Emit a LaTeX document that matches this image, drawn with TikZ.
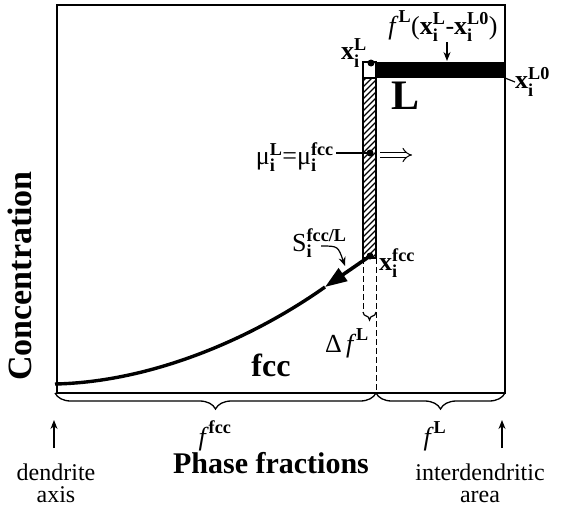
\documentclass[tikz,border=0pt]{standalone}
\usepackage{amsmath}
\usepackage{fontspec}
\setmainfont{Liberation Serif}
\usetikzlibrary{arrows.meta,decorations.pathreplacing}

\newcommand{\xconc}[1]{\textbf{x}_{\textbf{i}}^{\textbf{#1}}}
\newcommand{\fphase}[1]{\textit{f}^{\,\textbf{#1}}}

\begin{document}
\begin{tikzpicture}[x=1pt, y=-1pt,
      lab/.style={font=\fontsize{26}{28}\selectfont, inner sep=0pt},
      big/.style={font=\fontsize{31}{33}\selectfont\bfseries, inner sep=0pt},
      note/.style={font=\fontsize{24}{22}\selectfont, align=center, inner sep=0pt},
      brc/.style={decorate, decoration={brace, mirror, amplitude=16pt}, line width=1.3pt},
      ptr/.style={line width=1.2pt, -{Stealth[length=9pt, width=7pt]}}]
    \useasboundingbox (0,0) rectangle (569,506);
    % frame of the plot
    \coordinate (tl) at (57,5);
    \coordinate (br) at (505,393);
    \draw[line width=2.4pt] (tl) rectangle (br);
    % liquid bar and interface column
    \fill (376,62) rectangle (505,78);
    \draw[line width=1.6pt, fill=white] (363,62) rectangle (376,78);
    \begin{scope}
      \clip (363,78) rectangle (376,258);
      \foreach \k in {0,...,34} { \draw[line width=1.1pt] (360,84+6*\k) -- ++(20,-20); }
    \end{scope}
    \draw[line width=1.6pt] (363,78) rectangle (376,258);
    \coordinate (dotL) at (371,63);
    \coordinate (dotmu) at (370,153);
    \coordinate (dotfcc) at (370,256);
    \foreach \p in {dotL, dotmu, dotfcc} { \fill (\p) circle (3.5pt); }
    % dashed boundaries below the column
    \coordinate (dl) at (363,258);
    \coordinate (dr) at (376,258);
    \coordinate (dlend) at (363,312);
    \coordinate (drend) at (376,393);
    \draw[line width=1pt, dash pattern=on 6pt off 3pt] (dl) -- (dlend);
    \draw[line width=1pt, dash pattern=on 6pt off 3pt] (dr) -- (drend);
    \draw[decorate, decoration={brace, mirror, amplitude=8pt}, line width=1.2pt] (dlend) -- (376,312);
    % solid profile and flux arrow
    \coordinate (axis0) at (55,384);
    \coordinate (tip) at (325,287);
    \draw[line width=3.4pt] (axis0) .. controls (150,382) and (250,340) .. (tip);
    \draw[line width=3.6pt, -{Triangle[length=22pt, width=15pt]}] (dotfcc) -- (tip);
    % labels
    \node[big, rotate=90, font=\fontsize{34}{36}\selectfont\bfseries] (conc) at (20,276) {Concentration};
    \node[big, font=\fontsize{32}{34}\selectfont\bfseries] (fcc) at (271,365) {fcc};
    \node[inner sep=0pt, font=\fontsize{42}{44}\selectfont\bfseries] (liq) at (405,96) {L};
    \node[lab, anchor=base] (flux) at (443,34) {$\fphase{L}\text{(}\xconc{L}\text{-}\xconc{L0}\text{)}$};
    \node[lab, anchor=east] (xL) at (367,53) {$\xconc{L}$};
    \node[lab, anchor=west] (xL0) at (515,82) {$\xconc{L0}$};
    \node[lab, anchor=west] (xfcc) at (379,263) {$\xconc{fcc}$};
    \node[lab, anchor=east] (mu) at (334,157) {$\text{μ}_{\textbf{i}}^{\textbf{L}}\text{=}\text{μ}_{\textbf{i}}^{\textbf{fcc}}$};
    \node[lab, anchor=west] (sfl) at (292,243) {$\text{S}_{\textbf{i}}^{\textbf{fcc/L}}$};
    \node[lab] (dfl) at (347,343) {$\text{Δ}\,\fphase{L}$};
    % connectors
    \coordinate (fluxfoot) at (447,61);
    \draw[ptr] (447,42) -- (fluxfoot);
    \draw[line width=1.2pt] (505,78) -- (xL0.west);
    \draw[line width=1.2pt, shorten <=2pt] (mu.east |- dotmu) -- (dotmu);
    \coordinate (push0) at (380,155);
    \coordinate (push1) at (412,155);
    \draw[line width=1pt, double, double distance=4pt, -{Implies}] (push0) -- (push1);
    \coordinate (sfoot) at (345,266);
    \draw[ptr] (321,246) .. controls (338,246) .. (sfoot);
    % phase fraction braces
    \coordinate (bl) at (55,393);
    \draw[brc] (bl) -- (drend);
    \draw[brc] (drend) -- (br);
    \node[lab] (ffcc) at (215,436) {$\fphase{fcc}$};
    \node[lab] (fL) at (435,436) {$\fphase{L}$};
    \node[big, font=\fontsize{30}{32}\selectfont\bfseries] (phase) at (271,463) {Phase fractions};
    \node[note] (dend) at (56,483) {dendrite\\axis};
    \node[note] (inter) at (480,483) {interdendritic\\area};
    \coordinate (dendup) at (54,420);
    \coordinate (interup) at (502,420);
    \draw[ptr] (54,448) -- (dendup);
    \draw[ptr] (502,448) -- (interup);
  \end{tikzpicture}
\end{document}
